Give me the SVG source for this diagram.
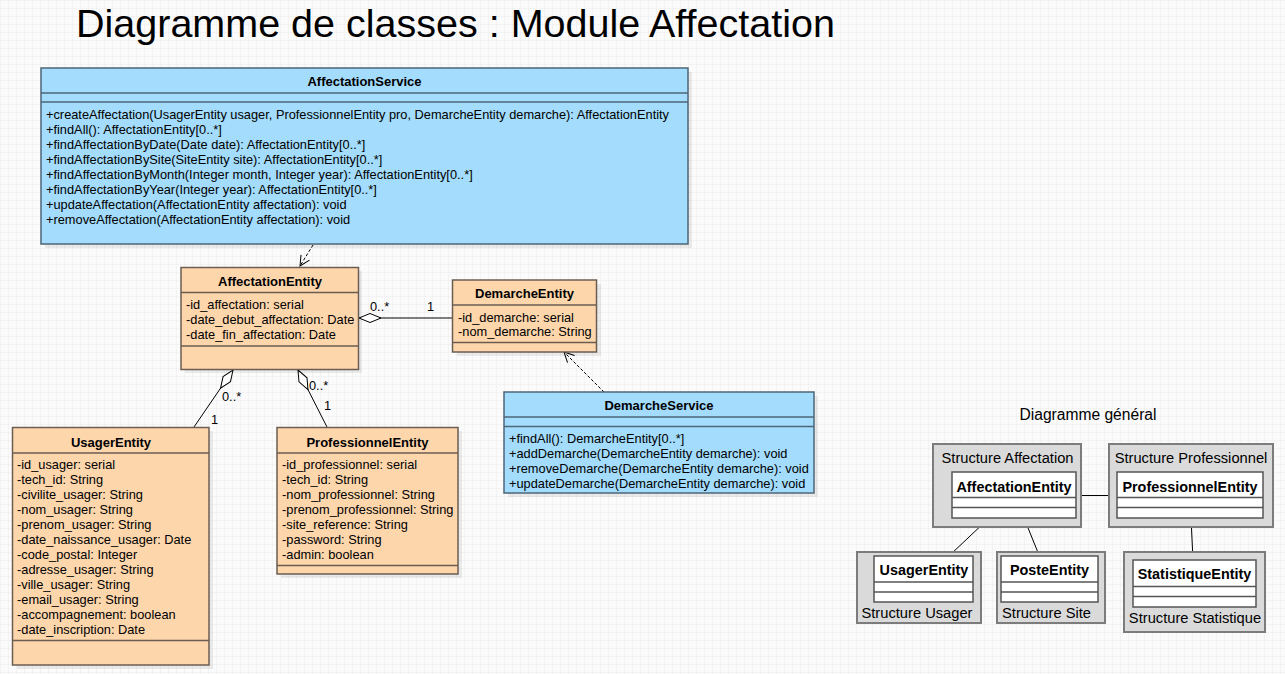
<svg xmlns="http://www.w3.org/2000/svg" width="1285" height="674" viewBox="0 0 1285 674">
<style>
text{font-family:"Liberation Sans",Arial,sans-serif;fill:#000}
.t{font-size:12.8px}
.b{font-size:13px;font-weight:bold}
.c{text-anchor:middle}
.blue{fill:#a3dcfc;stroke:#4e6678;stroke-width:1.5}
.peach{fill:#fdd6ac;stroke:#6b5d52;stroke-width:1.5}
.sepB{stroke:#4e6678;stroke-width:1.5}
.sepP{stroke:#6b5d52;stroke-width:1.5}
.sepG{stroke:#555;stroke-width:1.5}
.shadow{fill:#000;opacity:0.07}
.pkg{fill:#dadada;stroke:#7c7c7c;stroke-width:2}
.cls{fill:#fff;stroke:#555;stroke-width:1.5}
.g{font-size:14.7px}
.gb{font-size:14.4px;font-weight:bold}
.line{stroke:#000;stroke-width:1;fill:none}
.dash{stroke:#000;stroke-width:1;fill:none;stroke-dasharray:3,2}
</style>
<defs>
<pattern id="grid" width="8" height="8" patternUnits="userSpaceOnUse">
<path d="M8 0H0V8" fill="none" stroke="#ebebeb" stroke-width="1"/>
</pattern>
<marker id="diamond" markerUnits="userSpaceOnUse" markerWidth="24" markerHeight="12" refX="0" refY="5" orient="auto" overflow="visible">
<path d="M0,5 L11,0.5 L22,5 L11,9.5 Z" fill="#fff" stroke="#000" stroke-width="1"/>
</marker>
<marker id="open" markerUnits="userSpaceOnUse" markerWidth="12" markerHeight="12" refX="10" refY="5" orient="auto" overflow="visible">
<path d="M0,0 L10,5 L0,10" fill="none" stroke="#000" stroke-width="1"/>
</marker>
</defs>
<rect width="1285" height="674" fill="#fbfbfb"/>
<rect width="1285" height="674" fill="url(#grid)"/>
<text x="76" y="37" style="font-size:39.5px">Diagramme de classes : Module Affectation</text>

<g id="connectors">
<path class="dash" d="M313,245 L300,266" marker-end="url(#open)"/>
<path class="dash" d="M604,392 L564,352" marker-end="url(#open)"/>
<path class="line" d="M359,318 L452,318" marker-start="url(#diamond)"/>
<text class="t" x="370" y="311">0..*</text>
<text class="t" x="427" y="311">1</text>
<path class="line" d="M233,370 L194,427" marker-start="url(#diamond)"/>
<text class="t" x="222" y="401">0..*</text>
<text class="t" x="211" y="424">1</text>
<path class="line" d="M298,370 L327,427" marker-start="url(#diamond)"/>
<text class="t" x="309" y="390">0..*</text>
<text class="t" x="324" y="410">1</text>
<path class="line" d="M1076,495.5 L1117,495.5"/>
<path class="line" d="M987,520 L950,555"/>
<path class="line" d="M1024,518 L1039,555"/>
<path class="line" d="M1191,518 L1193,560"/>
</g>

<g id="AffectationService">
<rect class="shadow" x="45" y="72" width="647" height="176"/>
<rect class="blue" x="41" y="68" width="647" height="176"/>
<line class="sepB" x1="41" y1="93" x2="688" y2="93"/>
<line class="sepB" x1="41" y1="102" x2="688" y2="102"/>
<text class="b c" x="364.5" y="85.5">AffectationService</text>
<text class="t" x="46" y="118.5">+createAffectation(UsagerEntity usager, ProfessionnelEntity pro, DemarcheEntity demarche): AffectationEntity</text>
<text class="t" x="46" y="133.5">+findAll(): AffectationEntity[0..*]</text>
<text class="t" x="46" y="148.5">+findAffectationByDate(Date date): AffectationEntity[0..*]</text>
<text class="t" x="46" y="163.5">+findAffectationBySite(SiteEntity site): AffectationEntity[0..*]</text>
<text class="t" x="46" y="178.5">+findAffectationByMonth(Integer month, Integer year): AffectationEntity[0..*]</text>
<text class="t" x="46" y="193.5">+findAffectationByYear(Integer year): AffectationEntity[0..*]</text>
<text class="t" x="46" y="208.5">+updateAffectation(AffectationEntity affectation): void</text>
<text class="t" x="46" y="223.5">+removeAffectation(AffectationEntity affectation): void</text>
</g>

<g id="AffectationEntity">
<rect class="shadow" x="185" y="271" width="177" height="102"/>
<rect class="peach" x="181" y="267.5" width="177.5" height="102"/>
<line class="sepP" x1="181" y1="292.5" x2="358.5" y2="292.5"/>
<line class="sepP" x1="181" y1="346" x2="358.5" y2="346"/>
<text class="b c" x="270" y="285.5">AffectationEntity</text>
<text class="t" x="186" y="308.5">-id_affectation: serial</text>
<text class="t" x="186" y="323.5">-date_debut_affectation: Date</text>
<text class="t" x="186" y="338.5">-date_fin_affectation: Date</text>
</g>

<g id="DemarcheEntity">
<rect class="shadow" x="457" y="284" width="144" height="72"/>
<rect class="peach" x="452.5" y="280" width="144" height="72"/>
<line class="sepP" x1="452.5" y1="305" x2="596.5" y2="305"/>
<line class="sepP" x1="452.5" y1="342.5" x2="596.5" y2="342.5"/>
<text class="b c" x="524.5" y="297.5">DemarcheEntity</text>
<text class="t" x="458" y="321.5">-id_demarche: serial</text>
<text class="t" x="458" y="335.5">-nom_demarche: String</text>
</g>

<g id="DemarcheService">
<rect class="shadow" x="508" y="396" width="310" height="101"/>
<rect class="blue" x="504" y="392" width="310" height="101"/>
<line class="sepB" x1="504" y1="417" x2="814" y2="417"/>
<line class="sepB" x1="504" y1="426.5" x2="814" y2="426.5"/>
<text class="b c" x="659" y="409.5">DemarcheService</text>
<text class="t" x="509" y="442.5">+findAll(): DemarcheEntity[0..*]</text>
<text class="t" x="509" y="457.5">+addDemarche(DemarcheEntity demarche): void</text>
<text class="t" x="509" y="472.5">+removeDemarche(DemarcheEntity demarche): void</text>
<text class="t" x="509" y="487.5">+updateDemarche(DemarcheEntity demarche): void</text>
</g>

<g id="UsagerEntity">
<rect class="shadow" x="17" y="431" width="196" height="238"/>
<rect class="peach" x="12.5" y="427.5" width="196.5" height="237.5"/>
<line class="sepP" x1="12.5" y1="453" x2="209" y2="453"/>
<line class="sepP" x1="12.5" y1="640.5" x2="209" y2="640.5"/>
<text class="b c" x="111" y="446.5">UsagerEntity</text>
<text class="t" x="17" y="469">-id_usager: serial</text>
<text class="t" x="17" y="484">-tech_id: String</text>
<text class="t" x="17" y="499">-civilite_usager: String</text>
<text class="t" x="17" y="514">-nom_usager: String</text>
<text class="t" x="17" y="529">-prenom_usager: String</text>
<text class="t" x="17" y="544">-date_naissance_usager: Date</text>
<text class="t" x="17" y="559">-code_postal: Integer</text>
<text class="t" x="17" y="574">-adresse_usager: String</text>
<text class="t" x="17" y="589">-ville_usager: String</text>
<text class="t" x="17" y="604">-email_usager: String</text>
<text class="t" x="17" y="619">-accompagnement: boolean</text>
<text class="t" x="17" y="634">-date_inscription: Date</text>
</g>

<g id="ProfessionnelEntity">
<rect class="shadow" x="281" y="431" width="181" height="147"/>
<rect class="peach" x="277" y="427.5" width="181" height="146.5"/>
<line class="sepP" x1="277" y1="453" x2="458" y2="453"/>
<line class="sepP" x1="277" y1="565.5" x2="458" y2="565.5"/>
<text class="b c" x="367.5" y="446.5">ProfessionnelEntity</text>
<text class="t" x="282" y="469">-id_professionnel: serial</text>
<text class="t" x="282" y="484">-tech_id: String</text>
<text class="t" x="282" y="499">-nom_professionnel: String</text>
<text class="t" x="282" y="514">-prenom_professionnel: String</text>
<text class="t" x="282" y="529">-site_reference: String</text>
<text class="t" x="282" y="544">-password: String</text>
<text class="t" x="282" y="559">-admin: boolean</text>
</g>

<text class="c" style="font-size:15.6px" x="1088" y="420">Diagramme général</text>

<g id="StructureAffectation">
<rect class="pkg" x="933" y="444" width="148" height="83"/>
<text class="g c" x="1007.5" y="463">Structure Affectation</text>
<rect class="cls" x="952" y="472" width="124" height="46"/>
<line class="sepG" x1="952" y1="497.5" x2="1076" y2="497.5"/>
<line class="sepG" x1="952" y1="507.5" x2="1076" y2="507.5"/>
<text class="gb c" x="1014" y="492">AffectationEntity</text>
</g>

<g id="StructureProfessionnel">
<rect class="pkg" x="1109" y="444" width="164" height="83"/>
<text class="g c" x="1191" y="463">Structure Professionnel</text>
<rect class="cls" x="1117" y="472" width="146" height="46"/>
<line class="sepG" x1="1117" y1="497.5" x2="1263" y2="497.5"/>
<line class="sepG" x1="1117" y1="507.5" x2="1263" y2="507.5"/>
<text class="gb c" x="1190" y="492">ProfessionnelEntity</text>
</g>

<g id="StructureUsager">
<rect class="pkg" x="857" y="552" width="124" height="71"/>
<rect class="cls" x="874" y="556" width="99" height="46"/>
<line class="sepG" x1="874" y1="582" x2="973" y2="582"/>
<line class="sepG" x1="874" y1="592" x2="973" y2="592"/>
<text class="gb c" x="924" y="575">UsagerEntity</text>
<text class="g c" x="917" y="618">Structure Usager</text>
</g>

<g id="StructureSite">
<rect class="pkg" x="997" y="552" width="108" height="71"/>
<rect class="cls" x="1001" y="556" width="97" height="46"/>
<line class="sepG" x1="1001" y1="582" x2="1098" y2="582"/>
<line class="sepG" x1="1001" y1="592" x2="1098" y2="592"/>
<text class="gb c" x="1049.5" y="575">PosteEntity</text>
<text class="g c" x="1046.5" y="618">Structure Site</text>
</g>

<g id="StructureStatistique">
<rect class="pkg" x="1124" y="552" width="141" height="80"/>
<rect class="cls" x="1133" y="560" width="123" height="47"/>
<line class="sepG" x1="1133" y1="586.5" x2="1256" y2="586.5"/>
<line class="sepG" x1="1133" y1="596.5" x2="1256" y2="596.5"/>
<text class="gb c" x="1194.5" y="579">StatistiqueEntity</text>
<text class="g c" x="1195" y="623">Structure Statistique</text>
</g>
</svg>
